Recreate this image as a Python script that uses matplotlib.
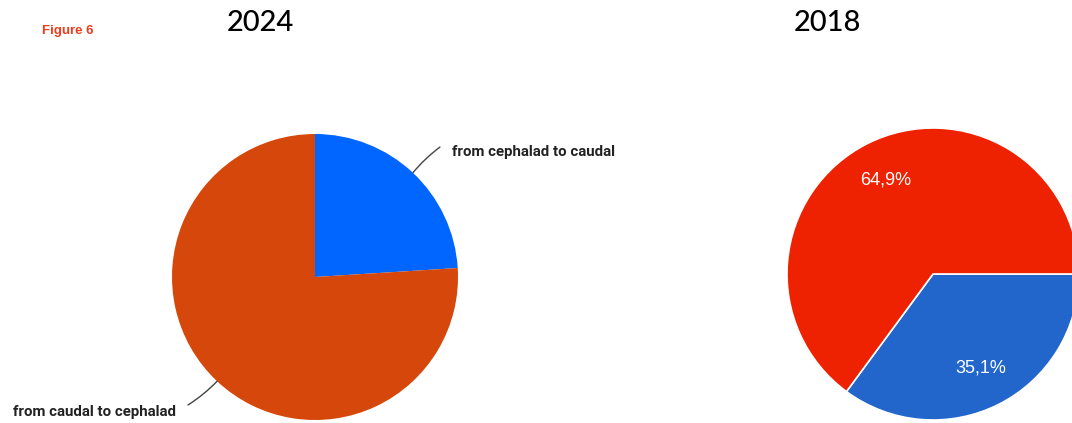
import matplotlib.pyplot as plt
import numpy as np

# 2024 survey
labels_2024 = ["from cephalad to caudal", "from caudal to cephalad"]
values_2024 = [24, 76]
colors_2024 = ["#0066FF", "#D5470A"]

# 2018 survey
values_2018 = [35.1, 64.9]
colors_2018 = ["#2266CC", "#EE2200"]

W, H = 1072, 423
fig = plt.figure(figsize=(W / 100, H / 100), dpi=100)

def px_axes(cx, cy, r):
    # axes box (in pixels) around a pie of radius r centred at cx, cy
    ax = fig.add_axes([(cx - r) / W, 1 - (cy + r) / H, 2 * r / W, 2 * r / H])
    return ax

def fix_limits(ax):
    ax.set_xlim(-1, 1)
    ax.set_ylim(-1, 1)
    ax.set_aspect("equal")
    ax.axis("off")

# left pie
ax1 = px_axes(315, 277, 143)
wedges, _ = ax1.pie(values_2024, colors=colors_2024, startangle=90,
                    counterclock=False)
fix_limits(ax1)
# (line end, text position, alignment) for the outside labels
leaders = [((0.874, 0.909), (0.96, 0.874), "left"),
           ((-0.888, -0.895), (-0.97, -0.945), "right")]
for w, lab, (end, tpos, ha) in zip(wedges, labels_2024, leaders):
    ang = np.deg2rad((w.theta1 + w.theta2) / 2)
    x, y = np.cos(ang), np.sin(ang)
    ax1.annotate("", xy=(x, y), xytext=end, annotation_clip=False,
                 arrowprops=dict(arrowstyle="-", color="#444444", lw=1,
                                 shrinkA=0, shrinkB=0,
                                 connectionstyle="arc3,rad=0.06"))
    ax1.text(tpos[0], tpos[1], lab, ha=ha, va="center", fontsize=10.8,
             fontweight="bold", color="#222222", family="Roboto", clip_on=False)

# right pie
ax2 = px_axes(933, 274, 146)
ax2.pie(values_2018, colors=colors_2018, startangle=0, counterclock=False,
        wedgeprops=dict(edgecolor="white", linewidth=1.2),
        autopct=lambda p: f"{p:.1f}".replace(".", ",") + "%", pctdistance=0.72,
        textprops=dict(color="white", fontsize=13, family="Liberation Sans"))
fix_limits(ax2)

fig.text(42 / W, 1 - 31 / H, "Figure 6", color="#F03C1E", fontsize=9.5,
         fontweight="bold", family="Liberation Sans", va="center")
fig.text(260 / W, 1 - 23 / H, "2024", fontsize=21, family="Lato",
         fontweight="medium", ha="center", va="center")
fig.text(827 / W, 1 - 23 / H, "2018", fontsize=21, family="Lato",
         fontweight="medium", ha="center", va="center")

fig.savefig("out.png", dpi=100, facecolor="white")
